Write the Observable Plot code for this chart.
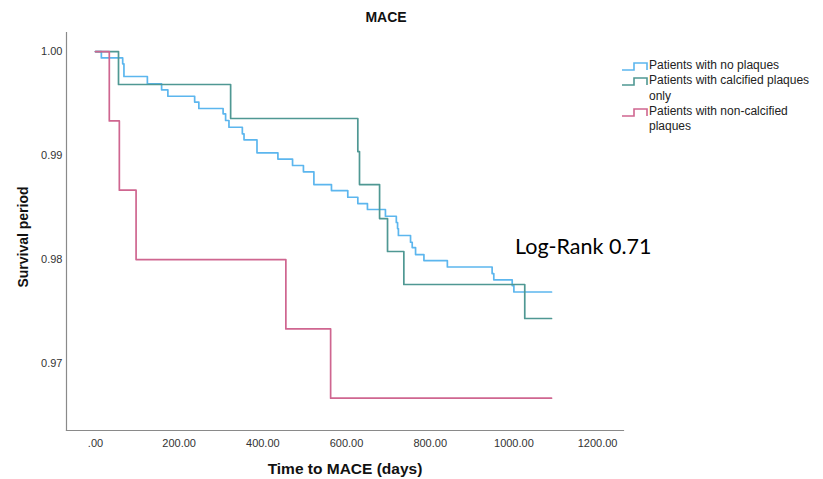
<!DOCTYPE html>
<html><head><meta charset="utf-8">
<script src="https://cdn.jsdelivr.net/npm/d3@7"></script>
<script src="https://cdn.jsdelivr.net/npm/@observablehq/plot@0.6"></script>
<style>
body{margin:0;background:#fff;}
#wrap{position:relative;width:823px;height:479px;font-family:"Liberation Sans",Arial,sans-serif;overflow:hidden;}
#wrap svg.plot{position:absolute;left:0;top:0;}
.title{position:absolute;left:386px;top:9px;transform:translateX(-50%);font-weight:bold;font-size:14px;color:#111;white-space:nowrap;}
.xtitle{position:absolute;left:345px;top:460px;transform:translateX(-50%);font-weight:bold;font-size:15.5px;color:#111;white-space:nowrap;}
.ytitle{position:absolute;left:23px;top:237px;transform:translate(-50%,-50%) rotate(-90deg);font-weight:bold;font-size:14px;color:#111;white-space:nowrap;}
.logrank{position:absolute;left:515px;top:233px;font-family:Lato,"Open Sans",sans-serif;font-size:21.5px;color:#000;white-space:nowrap;}
.legend{position:absolute;left:621px;top:58px;font-size:12px;color:#222;line-height:15.3px;}
.legend .item{position:relative;padding-left:28px;}
.legend svg{position:absolute;left:0;top:2px;}
</style></head><body><div id="wrap"></div>
<script>
const groups = ["Patients with no plaques", "Patients with calcified plaques only", "Patients with non-calcified plaques"];
const legendLabels = [["Patients with no plaques"], ["Patients with calcified plaques", "only"], ["Patients with non-calcified", "plaques"]];
const colors = ["#5cb6ee", "#4f9893", "#cf6690"];

const noPlaqueDays = [0, 14, 65, 68, 124, 158, 173, 237, 247, 305, 311, 319, 351, 355, 386, 436, 471, 497, 522, 564, 603, 627, 650, 693, 719, 722, 724, 753, 757, 765, 785, 841, 948, 952, 996, 1000, 1090];
const noPlaqueSurv = [1, 0.99939, 0.99882, 0.99760, 0.99689, 0.99632, 0.99570, 0.99514, 0.99452, 0.99401, 0.99337, 0.99272, 0.99209, 0.99151, 0.99026, 0.98966, 0.98904, 0.98843, 0.98721, 0.98663, 0.98599, 0.98538, 0.98481, 0.98416, 0.98356, 0.98298, 0.98231, 0.98166, 0.98115, 0.98048, 0.97990, 0.97928, 0.97865, 0.97805, 0.97750, 0.97688, 0.97688];

const calcifiedDays = [0, 55, 323, 627, 631, 679, 698, 737, 1026, 1090];
const calcifiedSurv = [1, 0.99683, 0.99356, 0.99038, 0.98721, 0.98394, 0.98077, 0.97760, 0.97433, 0.97433];

const nonCalcifiedDays = [0, 33, 57, 97, 455, 562, 1090];
const nonCalcifiedSurv = [1, 0.99333, 0.98667, 0.98, 0.97333, 0.96667, 0.96667];

const xTicks = [0, 200, 400, 600, 800, 1000, 1200];
const yTicks = [0.97, 0.98, 0.99, 1.00];

const series = [
  {days: noPlaqueDays, surv: noPlaqueSurv},
  {days: calcifiedDays, surv: calcifiedSurv},
  {days: nonCalcifiedDays, surv: nonCalcifiedSurv}
];
const rows = series.flatMap((s, i) => s.days.map((d, j) => ({group: groups[i], t: d, s: s.surv[j]})));

const axisColor = "#8a8a8a";
const xFmt = d => d === 0 ? ".00" : d.toFixed(2);
const chart = Plot.plot({
  width: 823, height: 479,
  marginLeft: 66, marginRight: 200, marginTop: 32, marginBottom: 49,
  style: {fontFamily: "Liberation Sans, Arial, sans-serif", fontSize: "11px", color: "#333", background: "transparent"},
  x: {domain: [-69.3, 1262], ticks: xTicks, tickFormat: xFmt, label: null},
  y: {domain: [0.96356, 1.00183], ticks: yTicks, tickFormat: d3.format(".2f"), label: null},
  color: {domain: groups, range: colors},
  marks: [
    Plot.axisX({ticks: xTicks, tickSize: 0, tickPadding: 9, tickFormat: xFmt, label: null, fill: "#333"}),
    Plot.axisY({ticks: yTicks, tickSize: 0, tickPadding: 4, tickFormat: d3.format(".2f"), label: null, fill: "#333"}),
    Plot.frame({anchor: "left", stroke: axisColor, strokeWidth: 1.2}),
    Plot.frame({anchor: "bottom", stroke: axisColor, strokeWidth: 1.2}),
    Plot.line(rows, {x: "t", y: "s", z: "group", stroke: "group", curve: "step-after", strokeWidth: 1.7})
  ]
});
chart.classList.add("plot");
const wrap = document.getElementById("wrap");
wrap.appendChild(chart);

function addText(cls, txt) {
  const el = document.createElement("div");
  el.className = cls; el.textContent = txt;
  wrap.appendChild(el);
}
addText("title", "MACE");
addText("xtitle", "Time to MACE (days)");
addText("ytitle", "Survival period");
addText("logrank", "Log-Rank 0.71");

const leg = document.createElement("div");
leg.className = "legend";
legendLabels.forEach((lines, i) => {
  const item = document.createElement("div");
  item.className = "item";
  item.innerHTML = `<svg width="28" height="12"><path d="M1,10 H13 V3 H26 V10" fill="none" stroke="${colors[i]}" stroke-width="1.6"/></svg>` + lines.join("<br>");
  leg.appendChild(item);
});
wrap.appendChild(leg);
</script></body></html>
